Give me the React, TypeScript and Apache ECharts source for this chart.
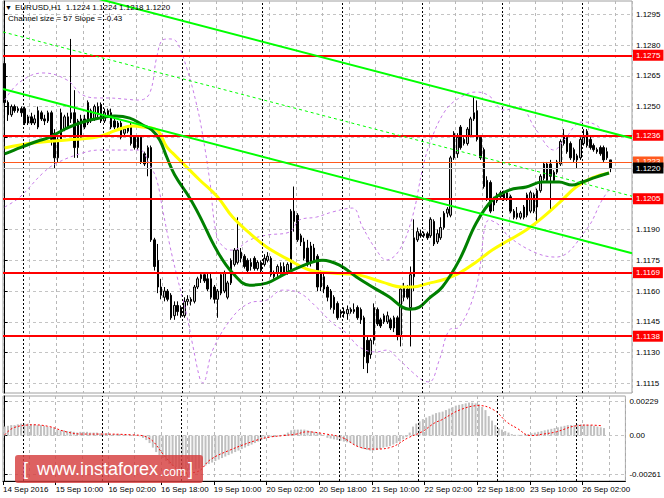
import React, { useEffect, useRef } from 'react';
import * as echarts from 'echarts';

const FONT = "'Liberation Sans', Arial, sans-serif";

// ---- axes / ticks ----
const totalSlots = 189;
const timeTickBars = [0, 16, 32, 48, 64, 80, 96, 112, 128, 144, 160, 176];
const timeTickLabels = [
  '14 Sep 2016', '15 Sep 10:00', '16 Sep 02:00', '16 Sep 18:00', '19 Sep 10:00', '20 Sep 02:00',
  '20 Sep 18:00', '21 Sep 10:00', '22 Sep 02:00', '22 Sep 18:00', '23 Sep 10:00', '26 Sep 02:00',
];
const daySeparatorBars = [6, 30, 54, 78, 102, 126, 150, 174];
const gridEveryBars = 8;

const priceTicks = [1.1115, 1.113, 1.1145, 1.116, 1.1175, 1.119, 1.1205, 1.122, 1.1235, 1.125, 1.1265, 1.128, 1.1295];
const priceLabelTicks = [1.1115, 1.113, 1.1145, 1.116, 1.1175, 1.119, 1.125, 1.1265, 1.128, 1.1295];
const priceMin = 1.11103;
const priceMax = 1.13015;
const macdTicks = [-0.00261, 0, 0.00229];
const macdMin = -0.00303;
const macdMax = 0.00264;

// ---- levels ----
const levels = [1.1275, 1.1236, 1.1205, 1.1169, 1.1138];
const askPrice = 1.1223;
const bidPrice = 1.122;

// ---- candles [open, close, low, high] ----
const ohlc = [
  [1.1271, 1.1252, 1.1241, 1.1274], [1.1252, 1.1246, 1.1243, 1.1253], [1.1246, 1.125, 1.1245, 1.1251],
  [1.125, 1.1248, 1.1247, 1.1251], [1.1248, 1.1249, 1.1247, 1.125], [1.1249, 1.1247, 1.1245, 1.125],
  [1.1249, 1.1242, 1.1241, 1.125], [1.1242, 1.1245, 1.1241, 1.1246], [1.1245, 1.1242, 1.1241, 1.1247],
  [1.1242, 1.1244, 1.1241, 1.1246], [1.124, 1.1248, 1.1239, 1.125], [1.1247, 1.1244, 1.1243, 1.1248],
  [1.1244, 1.1243, 1.1241, 1.1246], [1.1243, 1.1247, 1.1242, 1.1248], [1.1247, 1.1234, 1.1231, 1.1248],
  [1.1237, 1.1225, 1.122, 1.1239], [1.1225, 1.1234, 1.1223, 1.1235], [1.1234, 1.1247, 1.1233, 1.1249],
  [1.1239, 1.1245, 1.1238, 1.1246], [1.1245, 1.124, 1.1239, 1.1247], [1.1244, 1.1247, 1.1242, 1.1283],
  [1.1247, 1.123, 1.1225, 1.1258], [1.123, 1.1243, 1.1225, 1.1244], [1.1235, 1.1244, 1.1234, 1.1246],
  [1.1244, 1.124, 1.1239, 1.1246], [1.1242, 1.1252, 1.1241, 1.1253], [1.1248, 1.1243, 1.1242, 1.1249],
  [1.1244, 1.125, 1.1243, 1.1251], [1.125, 1.1246, 1.1244, 1.1252], [1.1251, 1.1243, 1.1242, 1.1252],
  [1.1243, 1.1247, 1.1242, 1.1249], [1.1246, 1.1248, 1.1245, 1.1249], [1.1247, 1.124, 1.1239, 1.1249],
  [1.1243, 1.124, 1.1239, 1.1244], [1.124, 1.1242, 1.1239, 1.1243], [1.1242, 1.1235, 1.1234, 1.1243],
  [1.1237, 1.1239, 1.1236, 1.124], [1.124, 1.1238, 1.1237, 1.1241], [1.1241, 1.1232, 1.1231, 1.1242],
  [1.1235, 1.123, 1.1229, 1.1236], [1.123, 1.1235, 1.1229, 1.1236], [1.1235, 1.1223, 1.1222, 1.1236],
  [1.1227, 1.1222, 1.1221, 1.1228], [1.1225, 1.123, 1.1216, 1.1231], [1.123, 1.1185, 1.1184, 1.1231],
  [1.1185, 1.1172, 1.117, 1.1186], [1.1175, 1.1162, 1.1159, 1.1183], [1.1162, 1.1158, 1.1156, 1.1166],
  [1.1157, 1.116, 1.1155, 1.1162], [1.116, 1.1156, 1.1155, 1.1161], [1.1158, 1.1147, 1.1146, 1.1159],
  [1.1148, 1.1153, 1.1146, 1.1155], [1.1153, 1.115, 1.1148, 1.1155], [1.1152, 1.1148, 1.1147, 1.1153],
  [1.1148, 1.1155, 1.1147, 1.1157], [1.1155, 1.1156, 1.1153, 1.1158], [1.1156, 1.1155, 1.1153, 1.1157],
  [1.1155, 1.1162, 1.1154, 1.1163], [1.1162, 1.1166, 1.1161, 1.1167], [1.1166, 1.1168, 1.1164, 1.1169],
  [1.1168, 1.1165, 1.1164, 1.1169], [1.1166, 1.1161, 1.116, 1.1169], [1.1166, 1.1157, 1.1156, 1.1169],
  [1.1162, 1.1156, 1.1154, 1.1163], [1.1156, 1.116, 1.1147, 1.1161], [1.1159, 1.1168, 1.1158, 1.1169],
  [1.116, 1.1169, 1.1159, 1.117], [1.1157, 1.1164, 1.1156, 1.1165], [1.1164, 1.1175, 1.1163, 1.1176],
  [1.1173, 1.118, 1.1172, 1.1181], [1.1174, 1.118, 1.1173, 1.1196], [1.1179, 1.1176, 1.1174, 1.1181],
  [1.1177, 1.1172, 1.1171, 1.1178], [1.1175, 1.117, 1.1169, 1.1176], [1.1172, 1.1174, 1.117, 1.1176],
  [1.1176, 1.1171, 1.117, 1.1177], [1.1171, 1.1174, 1.117, 1.1175], [1.1174, 1.117, 1.1169, 1.1175],
  [1.1173, 1.1176, 1.1172, 1.1178], [1.1175, 1.1177, 1.1174, 1.1179], [1.1176, 1.1168, 1.1167, 1.1177],
  [1.1167, 1.1169, 1.1166, 1.117], [1.1169, 1.1172, 1.1166, 1.1173], [1.1172, 1.1169, 1.1168, 1.1174],
  [1.1169, 1.1172, 1.1168, 1.1174], [1.1169, 1.1173, 1.1168, 1.1174], [1.117, 1.1199, 1.1169, 1.12],
  [1.1199, 1.1194, 1.1189, 1.1211], [1.1197, 1.1185, 1.1184, 1.1198], [1.1187, 1.1184, 1.1182, 1.1188],
  [1.1184, 1.1176, 1.1175, 1.1186], [1.1181, 1.1174, 1.1172, 1.1185], [1.1182, 1.1174, 1.1172, 1.1184],
  [1.1175, 1.1181, 1.1174, 1.1183], [1.1177, 1.1162, 1.116, 1.1178], [1.1169, 1.1162, 1.116, 1.117],
  [1.1167, 1.1161, 1.1159, 1.1169], [1.1162, 1.1157, 1.1155, 1.1163], [1.116, 1.1152, 1.1151, 1.1161],
  [1.1157, 1.1151, 1.1149, 1.1158], [1.1154, 1.1147, 1.1146, 1.1155], [1.1149, 1.115, 1.1147, 1.1151],
  [1.115, 1.1149, 1.1147, 1.1152], [1.1149, 1.1151, 1.1146, 1.1153], [1.1151, 1.115, 1.1149, 1.1152],
  [1.115, 1.1151, 1.1149, 1.1154], [1.1152, 1.1147, 1.1146, 1.1153], [1.1151, 1.1146, 1.1144, 1.1152],
  [1.1147, 1.1128, 1.1122, 1.1148], [1.1136, 1.1125, 1.112, 1.1138], [1.1129, 1.1136, 1.1127, 1.1137],
  [1.1136, 1.1152, 1.1134, 1.1154], [1.1151, 1.1144, 1.1143, 1.1152], [1.1146, 1.1143, 1.1142, 1.1147],
  [1.1145, 1.1148, 1.1144, 1.1149], [1.1145, 1.1148, 1.1144, 1.115], [1.1146, 1.1142, 1.1141, 1.1147],
  [1.1147, 1.1142, 1.114, 1.1148], [1.1147, 1.1138, 1.1136, 1.1148], [1.1138, 1.1161, 1.1133, 1.1162],
  [1.1157, 1.1162, 1.1155, 1.1164], [1.1161, 1.1157, 1.1156, 1.1163], [1.1152, 1.1168, 1.1133, 1.1172],
  [1.1167, 1.1186, 1.116, 1.1195], [1.1185, 1.1189, 1.1184, 1.1191], [1.1188, 1.1187, 1.1186, 1.119],
  [1.1187, 1.1188, 1.1186, 1.1189], [1.1188, 1.1186, 1.1185, 1.1189], [1.1187, 1.1195, 1.1186, 1.1196],
  [1.1194, 1.1183, 1.1182, 1.1195], [1.1184, 1.1188, 1.1183, 1.119], [1.1186, 1.1191, 1.1185, 1.1196],
  [1.1191, 1.1198, 1.119, 1.1199], [1.1198, 1.12, 1.1196, 1.1201], [1.1197, 1.1225, 1.1196, 1.1226],
  [1.1225, 1.1237, 1.1224, 1.1238], [1.1227, 1.1235, 1.1225, 1.1237], [1.124, 1.123, 1.1229, 1.1241],
  [1.1232, 1.1234, 1.1231, 1.1235], [1.1232, 1.1239, 1.1231, 1.124], [1.1236, 1.1244, 1.1235, 1.1245],
  [1.1244, 1.1247, 1.1243, 1.1255], [1.1248, 1.1234, 1.1233, 1.1253], [1.1235, 1.1225, 1.1224, 1.1236],
  [1.1229, 1.1211, 1.121, 1.123], [1.1214, 1.1205, 1.1204, 1.1216], [1.1213, 1.1199, 1.1198, 1.1214],
  [1.1202, 1.1205, 1.1199, 1.1206], [1.1204, 1.1207, 1.1203, 1.1208], [1.1206, 1.1208, 1.1205, 1.1209],
  [1.1205, 1.1208, 1.1204, 1.1209], [1.1208, 1.1205, 1.1204, 1.1209], [1.1206, 1.1199, 1.1198, 1.1207],
  [1.1199, 1.1196, 1.1195, 1.12], [1.1196, 1.1198, 1.1195, 1.1201], [1.1196, 1.1198, 1.1195, 1.1199],
  [1.1201, 1.1196, 1.1195, 1.1202], [1.1197, 1.1207, 1.1196, 1.1208], [1.1199, 1.1208, 1.1198, 1.1209],
  [1.1207, 1.1199, 1.1198, 1.1208], [1.1201, 1.1209, 1.1193, 1.121], [1.1209, 1.1216, 1.1208, 1.1217],
  [1.1215, 1.1222, 1.1214, 1.1223], [1.1222, 1.1214, 1.1213, 1.1223], [1.1222, 1.1216, 1.1199, 1.1224],
  [1.1214, 1.1218, 1.1213, 1.1219], [1.1218, 1.1223, 1.1217, 1.1224], [1.1222, 1.1233, 1.1221, 1.1234],
  [1.1232, 1.1236, 1.1231, 1.1239], [1.1235, 1.1228, 1.1227, 1.1236], [1.1232, 1.1225, 1.1224, 1.1233],
  [1.1229, 1.1224, 1.1223, 1.123], [1.1226, 1.1224, 1.122, 1.1227], [1.1225, 1.1234, 1.1224, 1.1235],
  [1.1232, 1.1235, 1.1231, 1.1239], [1.1231, 1.1238, 1.123, 1.1239], [1.1234, 1.123, 1.1229, 1.1236],
  [1.1231, 1.1229, 1.1228, 1.1232], [1.1229, 1.1228, 1.1227, 1.123], [1.123, 1.1227, 1.1226, 1.1231],
  [1.123, 1.1224, 1.1223, 1.1231], [1.1228, 1.1225, 1.1224, 1.123], [1.1224, 1.122, 1.1218, 1.1224],
];

// ---- moving averages [bar, price] ----
const maGreen = [
  [0, 1.12269], [4.9, 1.12301], [10, 1.12332], [13.6, 1.12351], [18.7, 1.12395], [23.5, 1.12425],
  [28.6, 1.12444], [33.1, 1.12454], [37.6, 1.12444], [41.5, 1.1241], [44.2, 1.12386], [46.6, 1.12337],
  [48.7, 1.12254], [51.1, 1.12166], [55.6, 1.12054], [58.6, 1.11966], [63.7, 1.118], [68.5, 1.11688],
  [73.6, 1.11629], [78.7, 1.11639], [83.5, 1.11678], [88.6, 1.11717], [95.5, 1.11751], [100.6, 1.11727],
  [105.7, 1.11669], [110.5, 1.1162], [115.6, 1.11571], [119.5, 1.11522], [121.6, 1.11512], [124.6, 1.11522],
  [127.6, 1.11566], [131.5, 1.1162], [136.6, 1.11751], [141.7, 1.11932], [146.5, 1.12044], [151.6, 1.12093],
  [156.7, 1.12108], [161.5, 1.12132], [166.6, 1.12132], [170.5, 1.12117], [173.5, 1.12132], [177.7, 1.12156],
  [181.6, 1.12176],
];
const maYellow = [
  [0, 1.12298], [8.5, 1.12322], [18.7, 1.12337], [27.7, 1.12351], [33.7, 1.12386], [38.5, 1.12405],
  [41.5, 1.124], [45.7, 1.12386], [48.7, 1.12303], [50.5, 1.12273], [55.6, 1.1219], [58.6, 1.12142],
  [64, 1.12059], [68.5, 1.11961], [73.6, 1.11883], [78.7, 1.11815], [85.6, 1.11751], [91.6, 1.11703],
  [98.5, 1.11688], [106.6, 1.11678], [113.5, 1.11644], [119.5, 1.1162], [122.5, 1.1162], [127.6, 1.11639],
  [131.5, 1.11654], [136.6, 1.11688], [141.7, 1.11742], [146.5, 1.118], [151.6, 1.11849], [156.7, 1.11898],
  [161.5, 1.11957], [166.6, 1.1203], [171.7, 1.12108], [176.5, 1.12152], [181.6, 1.12176],
];

// ---- envelope bands [bar, price] ----
const bandUpper = [
  [0, 1.12532], [4.6, 1.1262], [11.5, 1.12664], [18.7, 1.1263], [23.5, 1.12556], [28.6, 1.12542],
  [30.7, 1.12542], [40.6, 1.12532], [43.6, 1.12566], [45.7, 1.12742], [47.5, 1.12825], [49.6, 1.1283],
  [51.7, 1.12815], [54.7, 1.12688], [57.7, 1.12508], [59.5, 1.12361], [61.6, 1.12142], [63.7, 1.11873],
  [66.1, 1.1181], [68.5, 1.118], [73.6, 1.11849], [78.7, 1.11873], [85.6, 1.11888], [88.6, 1.11947],
  [93.7, 1.11961], [98.5, 1.11986], [104.5, 1.12005], [107.5, 1.11913], [111.7, 1.118], [114.7, 1.11752],
  [118.6, 1.118], [122.5, 1.11961], [125.5, 1.12191], [127.6, 1.12313], [132.1, 1.12473], [136.6, 1.12542],
  [141.7, 1.12571], [145.6, 1.12552], [150.1, 1.12483], [154.6, 1.12498], [159.7, 1.12386], [165.1, 1.12288],
  [168.1, 1.12337], [173.5, 1.12425], [177.7, 1.1241], [181.6, 1.12347],
];
const bandLower = [
  [0, 1.1201], [4.6, 1.12059], [11.5, 1.12176], [15.7, 1.12225], [23.5, 1.12274], [28.6, 1.12288],
  [36.7, 1.12288], [40.6, 1.12288], [43.6, 1.12215], [45.7, 1.12142], [47.5, 1.11995], [49.6, 1.11825],
  [51.7, 1.11678], [54.7, 1.11483], [56.5, 1.11337], [58.6, 1.11176], [59.5, 1.11152], [62.5, 1.11312],
  [68.5, 1.11474], [73.6, 1.11542], [78.7, 1.11556], [83.5, 1.11605], [88.6, 1.11591], [93.7, 1.11522],
  [98.5, 1.11444], [102.7, 1.11395], [106.6, 1.11327], [111.7, 1.11303], [114.7, 1.11312], [118.6, 1.11264],
  [122.5, 1.11205], [125.5, 1.11166], [127.6, 1.11157], [130.6, 1.11264], [133.6, 1.1141], [136.6, 1.11425],
  [141.7, 1.1162], [145.6, 1.11947], [148.6, 1.11922], [151.6, 1.11864], [159.7, 1.11786], [165.7, 1.11766],
  [174.7, 1.11898], [179.5, 1.12044], [181.6, 1.12093],
];

// ---- regression channel [bar, price] ----
const channelUpper = [[-0.5, 1.13147], [188.5, 1.12346]];
const channelMiddle = [[-0.5, 1.12864], [188.5, 1.12063]];
const channelLower = [[-0.5, 1.12586], [188.5, 1.11785]];

// ---- MACD ----
const macdHist = [
  0.0006, 0.00065, 0.0007, 0.0007, 0.00075, 0.0008, 0.0008, 0.0008, 0.00075, 0.00075,
  0.0007, 0.0007, 0.00065, 0.0006, 0.00055, 0.0005, 0.0004, 0.00035, 0.00035, 0.0003,
  0.0003, 0.00025, 0.0002, 0.00025, 0.00025, 0.00025, 0.0002, 0.0002, 0.0002, 0.00015,
  0.00015, 0.00015, 0.0001, 0.0001, 0.0001, 0.0001, 0.00005, 0.00005, 0.00005, 0.00005,
  0.00002, -0.00005, -0.00015, -0.0003, -0.0005, -0.0008, -0.0011, -0.0013, -0.0015, -0.0017,
  -0.0019, -0.002, -0.0021, -0.0022, -0.0023, -0.0023, -0.0023, -0.0023, -0.00225, -0.0022,
  -0.0021, -0.002, -0.0019, -0.0018, -0.0017, -0.0016, -0.0015, -0.0014, -0.0013, -0.0012,
  -0.0011, -0.001, -0.0009, -0.0008, -0.0007, -0.0006, -0.0005, -0.0004, -0.0003, -0.0002,
  -0.00015, -0.0001, -0.0001, -0.00005, 0.00002, 0.0001, 0.0002, 0.00035, 0.0004, 0.0004,
  0.0004, 0.0004, 0.00035, 0.0003, 0.00025, 0.0002, 0.0001, 0.00002, -0.00015, -0.0002,
  -0.00025, -0.0003, -0.00035, -0.0004, -0.00045, -0.0005, -0.0006, -0.0007, -0.0008, -0.0009,
  -0.00095, -0.001, -0.001, -0.00095, -0.0009, -0.0008, -0.00075, -0.0007, -0.0006, -0.0005,
  -0.0004, -0.00025, -0.0001, 0.0002, 0.0006, 0.0008, 0.00095, 0.0011, 0.0012, 0.0013,
  0.0014, 0.0015, 0.00155, 0.0016, 0.0017, 0.0018, 0.0019, 0.002, 0.00205, 0.0021,
  0.00215, 0.0022, 0.0022, 0.00215, 0.0021, 0.0019, 0.0017, 0.0013, 0.001, 0.0007,
  0.0005, 0.0004, 0.0003, 0.0002, 0.0001, 0.00005, 0.00005, 0.00005, 0.0001, 0.0001,
  0.00015, 0.0002, 0.00025, 0.0003, 0.00035, 0.0004, 0.00045, 0.0005, 0.00055, 0.0006,
  0.00065, 0.0007, 0.0007, 0.0007, 0.00075, 0.00075, 0.00075, 0.0007, 0.0007, 0.00065,
  0.0006, 0.00055, 0.0005,
];
const macdSignal = [
  [0, 0.00005], [2.5, 0.0005], [6.7, 0.0007], [8.5, 0.00072], [13.6, 0.0006], [18.7, 0.00025],
  [23.5, 0.0001], [28.6, 0.0001], [38.5, 0.00005], [43.6, -0.00015], [48.7, -0.0014], [52.6, -0.0023],
  [54.7, -0.0025], [58.6, -0.0024], [62.5, -0.0016], [68.5, -0.00096], [76.6, -0.0003], [80.5, -0.0001],
  [84.7, 0], [88.6, 0.0001], [91.6, 0.00025], [97.6, 0.0001], [102.7, -0.00015], [107.5, -0.00075],
  [112.6, -0.0009], [117.7, -0.00075], [122.5, -0.00015], [126.7, 0.00025], [130.6, 0.00085],
  [132.7, 0.00105], [138.1, 0.0017], [144.1, 0.002], [148.6, 0.0017], [152.5, 0.0009], [155.5, 0.0005],
  [159.7, 0], [163.6, 0.0001], [167.5, 0.00025], [173.5, 0.00065], [177.7, 0.0007], [181.6, 0.00065],
];

const headerLine1 = 'EURUSD,H1  1.1224 1.1224 1.1218 1.1220';
const headerLine2 = 'Channel size = 57 Slope = -0.43';

function buildOption() {
  const cats = Array.from({ length: totalSlots }, (_, i) => String(i));
  const gridSplit = {
    show: true,
    interval: (i: number) => i % gridEveryBars === 0,
    lineStyle: { color: '#b8b8b8', type: [3, 3] as any, width: 1 },
  };
  const sepLines = (color: string) =>
    daySeparatorBars.map((d) => ({ xAxis: d - 0.5, lineStyle: { color, type: [2, 2], width: 1 }, label: { show: false } }));
  const levelLabel = (v: number, bg: string) => ({
    show: true,
    position: 'end',
    formatter: v.toFixed(4),
    backgroundColor: bg,
    color: '#fff',
    padding: [2, 3, 1, 3],
    fontSize: 8,
    fontFamily: FONT,
    distance: 1,
  });
  const levelLines = [
    ...levels.map((v) => ({ yAxis: v, lineStyle: { color: '#ff0000', width: 2, type: 'solid' }, label: levelLabel(v, '#ff0000') })),
    { yAxis: askPrice, lineStyle: { color: '#ff5a1e', width: 1, type: 'solid' }, label: levelLabel(askPrice, '#ff5a1e') },
    { yAxis: bidPrice, lineStyle: { color: '#c0c0c0', width: 1, type: 'solid' }, label: levelLabel(bidPrice, '#000000') },
  ];

  return {
    animation: false,
    backgroundColor: '#ffffff',
    textStyle: { fontFamily: FONT },
    grid: [
      { left: 3, right: 32, top: 1, height: 392, show: true, borderColor: '#a0a0a0', borderWidth: 1 },
      { left: 3, right: 32, top: 396, height: 85, show: true, borderColor: '#a0a0a0', borderWidth: 1 },
    ],
    xAxis: [
      { type: 'category', gridIndex: 0, data: cats, boundaryGap: true, axisLine: { show: false }, axisTick: { show: false }, axisLabel: { show: false }, splitLine: gridSplit },
      { type: 'value', gridIndex: 0, min: -0.5, max: totalSlots - 0.5, show: false },
      { type: 'category', gridIndex: 1, data: cats, boundaryGap: true, axisLine: { show: false }, axisTick: { show: false }, axisLabel: { show: false }, splitLine: gridSplit },
      {
        type: 'value', gridIndex: 1, min: -0.5, max: totalSlots - 0.5, position: 'bottom',
        axisLine: { show: true, lineStyle: { color: '#000', width: 1 } },
        axisTick: { show: true, customValues: timeTickBars.map((b) => b - 0.5), length: 4, lineStyle: { color: '#000' } },
        axisLabel: {
          show: true,
          customValues: timeTickBars.map((b) => b - 0.5),
          formatter: (v: number) => {
            const i = timeTickBars.indexOf(Math.round(v + 0.5));
            return i >= 0 ? timeTickLabels[i] : '';
          },
          align: 'left', fontSize: 8, color: '#000', margin: 4, fontFamily: FONT,
        },
        splitLine: { show: false },
      },
    ],
    yAxis: [
      {
        type: 'value', gridIndex: 0, position: 'right', min: priceMin, max: priceMax,
        axisLine: { show: true, lineStyle: { color: '#000' } },
        axisTick: { show: true, customValues: priceTicks, length: 3, lineStyle: { color: '#000' } },
        axisLabel: { customValues: priceLabelTicks, formatter: (v: number) => v.toFixed(4), fontSize: 8, color: '#000', margin: 4, fontFamily: FONT },
        splitLine: { show: true, lineStyle: { color: '#c4c4c4', type: [3, 3] } },
      },
      {
        type: 'value', gridIndex: 1, position: 'right', min: macdMin, max: macdMax,
        axisLine: { show: true, lineStyle: { color: '#000' } },
        axisTick: { show: true, customValues: macdTicks, length: 3, lineStyle: { color: '#000' } },
        axisLabel: { customValues: macdTicks, formatter: (v: number) => (v === 0 ? '0.00' : v.toFixed(5)), fontSize: 8, color: '#000', margin: 4, fontFamily: FONT },
        splitLine: { show: true, lineStyle: { color: '#c4c4c4', type: [3, 3] } },
      },
    ],
    series: [
      {
        type: 'candlestick', name: 'EURUSD', xAxisIndex: 0, yAxisIndex: 0, z: 2,
        data: ohlc, barWidth: 2,
        itemStyle: { color: '#c4c4c4', color0: '#000000', borderColor: '#000000', borderColor0: '#000000', borderWidth: 1 },
      },
      {
        type: 'line', name: 'upper band', xAxisIndex: 1, yAxisIndex: 0, z: 3, data: bandUpper, smooth: 0.4, symbol: 'none',
        lineStyle: { color: '#c77ce8', width: 1, type: [3, 3] },
        markLine: { silent: true, precision: 5, symbol: ['none', 'none'], data: sepLines('#000000') },
      },
      { type: 'line', name: 'lower band', xAxisIndex: 1, yAxisIndex: 0, z: 3, data: bandLower, smooth: 0.4, symbol: 'none', lineStyle: { color: '#c77ce8', width: 1, type: [3, 3] } },
      { type: 'line', name: 'MA yellow', xAxisIndex: 1, yAxisIndex: 0, z: 4, data: maYellow, smooth: 0.4, symbol: 'none', lineStyle: { color: '#ffff00', width: 3 } },
      { type: 'line', name: 'MA green', xAxisIndex: 1, yAxisIndex: 0, z: 4, data: maGreen, smooth: 0.4, symbol: 'none', lineStyle: { color: '#008000', width: 3 } },
      { type: 'line', name: 'channel upper', xAxisIndex: 1, yAxisIndex: 0, z: 5, data: channelUpper, symbol: 'none', lineStyle: { color: '#00ff00', width: 2 } },
      { type: 'line', name: 'channel lower', xAxisIndex: 1, yAxisIndex: 0, z: 5, data: channelLower, symbol: 'none', lineStyle: { color: '#00ff00', width: 2 } },
      {
        type: 'line', name: 'channel middle', xAxisIndex: 1, yAxisIndex: 0, z: 6, data: channelMiddle, symbol: 'none',
        lineStyle: { color: '#00ff00', width: 1, type: [3, 3] },
        markLine: { silent: true, precision: 5, symbol: ['none', 'none'], data: levelLines },
      },
      {
        type: 'bar', name: 'MACD', xAxisIndex: 2, yAxisIndex: 1, z: 2, data: macdHist, barWidth: 2,
        itemStyle: { color: '#c0c0c0' },
      },
      {
        type: 'line', name: 'Signal', xAxisIndex: 3, yAxisIndex: 1, z: 3, data: macdSignal, smooth: 0.4, symbol: 'none',
        lineStyle: { color: '#ff0000', width: 1, type: [2, 2] },
        markLine: { silent: true, precision: 5, symbol: ['none', 'none'], data: sepLines('#000000') },
      },
    ],
    graphic: [
      { type: 'text', left: 5, top: 4, z: 100, style: { text: '▼', font: `7px ${FONT}`, fill: '#000' } },
      { type: 'text', left: 15, top: 3, z: 100, style: { text: headerLine1, font: `8px ${FONT}`, fill: '#000' } },
      { type: 'text', left: 8, top: 14, z: 100, style: { text: headerLine2, font: `8px ${FONT}`, fill: '#000' } },
      { type: 'rect', z: 100, shape: { x: 15, y: 455, width: 188, height: 28, r: 3 }, style: { fill: 'rgba(214,62,62,0.82)' } },
      { type: 'text', z: 101, x: 23, y: 469, style: { text: '[', font: `18px ${FONT}`, fill: '#fff', verticalAlign: 'middle' } },
      { type: 'text', z: 101, x: 37, y: 469, style: { text: 'www.instaforex', font: `18px ${FONT}`, fill: '#fff', verticalAlign: 'middle' } },
      { type: 'text', z: 101, x: 160, y: 472, style: { text: '.com', font: `12px ${FONT}`, fill: '#fff', verticalAlign: 'middle' } },
      { type: 'text', z: 101, x: 188, y: 469, style: { text: ']', font: `18px ${FONT}`, fill: '#fff', verticalAlign: 'middle' } },
    ],
  };
}

export default function App() {
  const ref = useRef<HTMLDivElement>(null);
  useEffect(() => {
    if (!ref.current) return;
    const chart = echarts.init(ref.current, undefined, { renderer: 'svg' });
    chart.setOption(buildOption() as any);
    return () => chart.dispose();
  }, []);
  return (
    <div
      ref={ref}
      style={{ position: 'fixed', left: 0, top: 0, width: 664, height: 498, background: '#ffffff' }}
    />
  );
}
